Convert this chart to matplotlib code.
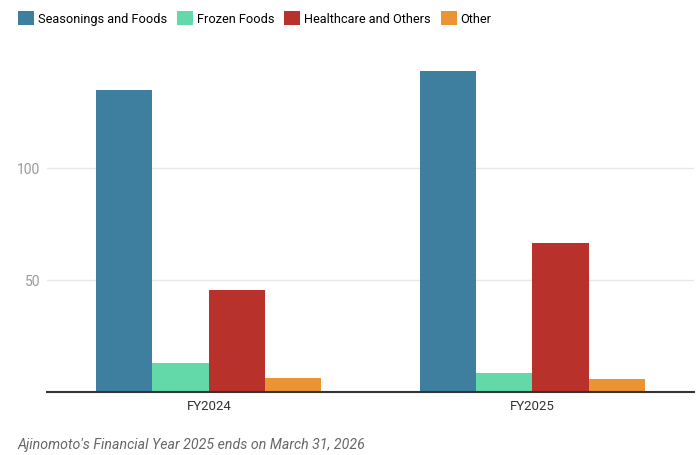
import matplotlib.pyplot as plt
import numpy as np

plt.rcParams['font.family'] = ['Roboto', 'DejaVu Sans']

years = ["FY2024", "FY2025"]
segments = ["Seasonings and Foods", "Frozen Foods", "Healthcare and Others", "Other"]
seasonings = [134.5, 143.4]
frozen = [12.7, 8.3]
healthcare = [45.6, 66.3]
other = [6.0, 5.7]
colors = ["#3e7fa0", "#63d9a9", "#b8312a", "#ec9334"]

fig = plt.figure(figsize=(7, 4.56), dpi=100)
ax = fig.add_axes([47 / 700, 0.139, (694 - 47) / 700, 0.712])

x = np.arange(len(years))
w = 0.174
series = [seasonings, frozen, healthcare, other]
for i, vals in enumerate(series):
    ax.bar(x + (i - 1.5) * w, vals, w, color=colors[i], label=segments[i], zorder=3)

ax.set_xlim(-0.5, 1.5)
ax.set_ylim(0, 145)
ax.set_yticks([50, 100])
ax.yaxis.grid(True, color="#e8e8e8", linewidth=1, zorder=0)
for s in ["top", "right", "left"]:
    ax.spines[s].set_visible(False)
ax.spines["bottom"].set_color("#333333")
ax.spines["bottom"].set_linewidth(1.5)
ax.spines["bottom"].set_zorder(4)
ax.tick_params(axis="y", length=0, labelsize=10, labelcolor="#999999", pad=5)
ax.tick_params(axis="x", length=0, labelsize=9.5, labelcolor="#333333", pad=5)
ax.set_xticks(x)
ax.set_xticklabels(years)

fig.legend(loc="upper left", bbox_to_anchor=(18 / 700, 1 - 12 / 456), ncol=4,
           frameon=False, fontsize=9.2, handlelength=1.25, handleheight=1.25,
           handletextpad=0.3, columnspacing=0.78, borderaxespad=0, borderpad=0)

fig.text(18 / 700, 1 - 445 / 456, "Ajinomoto's Financial Year 2025 ends on March 31, 2026",
         fontsize=10.2, style="italic", color="#666666", va="center")

fig.savefig("out.png", dpi=100)
